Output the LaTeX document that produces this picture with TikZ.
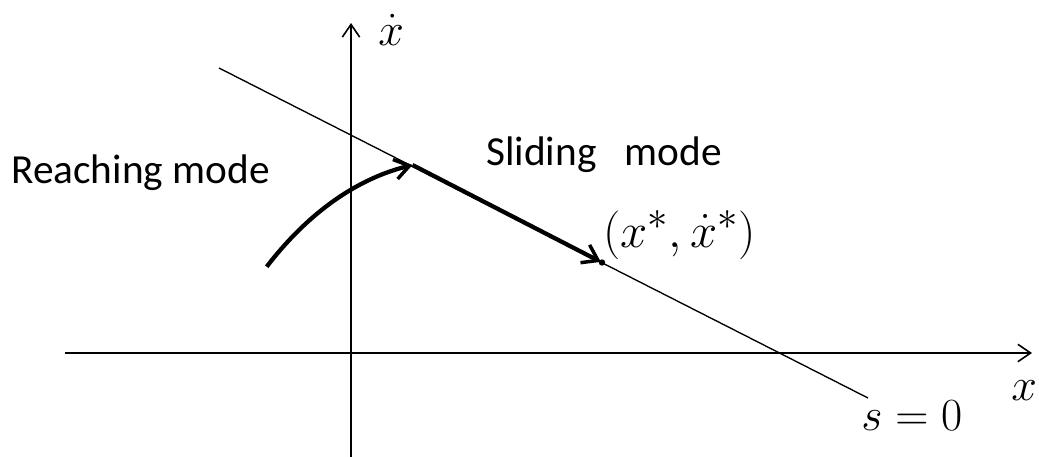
\documentclass[tikz,border=0pt]{standalone}
\usepackage{fontspec}
\newfontfamily\carlito{Carlito}
\usetikzlibrary{arrows.meta}
\newcommand{\mylblmath}[2][1.387]{\scalebox{#1}{\Huge$#2$}}
\tikzset{
  axis/.style={line width=1.3pt, -{Straight Barb[length=9.5pt,width=13pt,line width=1.2pt]}},
  surface/.style={line width=1pt},
  traj/.style={line width=3.2pt, -{Straight Barb[length=11pt,width=15pt,line width=2.6pt]}},
  txt/.style={inner sep=0pt, anchor=base west, font=\carlito\fontsize{31}{36}\selectfont},
  mth/.style={inner sep=0pt, anchor=base west},
}
\begin{document}
\begin{tikzpicture}[x=0.75pt,y=-0.75pt]
\useasboundingbox (0,0) rectangle (1039,457);
\coordinate (xs) at (65,353);
\coordinate (xe) at (1032,353);
\coordinate (ys) at (351,457);
\coordinate (ye) at (351,23);
\coordinate (s1) at (219,68);
\coordinate (s2) at (868,398);
\coordinate (C0) at (266.7,266.7);
\coordinate (A) at (412.5,165);
\coordinate (P) at (602,262.5);
\draw[axis] (xs) -- (xe);
\draw[axis] (ys) -- (ye);
\draw[surface] (s1) -- (s2);
\draw[traj] (C0) .. controls (307.7,213.4) and (356,178.9) .. (A);
\draw[traj, shorten >=1pt] (A) -- (P);
\fill (P) circle (3.2);
\node[txt] (reach) at (11,183) {Reaching mode};
\node[txt] (slide) at (486,165) {Sliding~~~mode};
\node[mth] (ydot) at (378,45) {\mylblmath{\dot x}};
\node[mth] (xlab) at (1011,400) {\mylblmath{x}};
\node[mth] (s0) at (861,430) {\mylblmath{s=0}};
\node[mth] (eq) at (603,247) {\mylblmath[1.47]{(x^*,\dot x^*)}};
\end{tikzpicture}
\end{document}
